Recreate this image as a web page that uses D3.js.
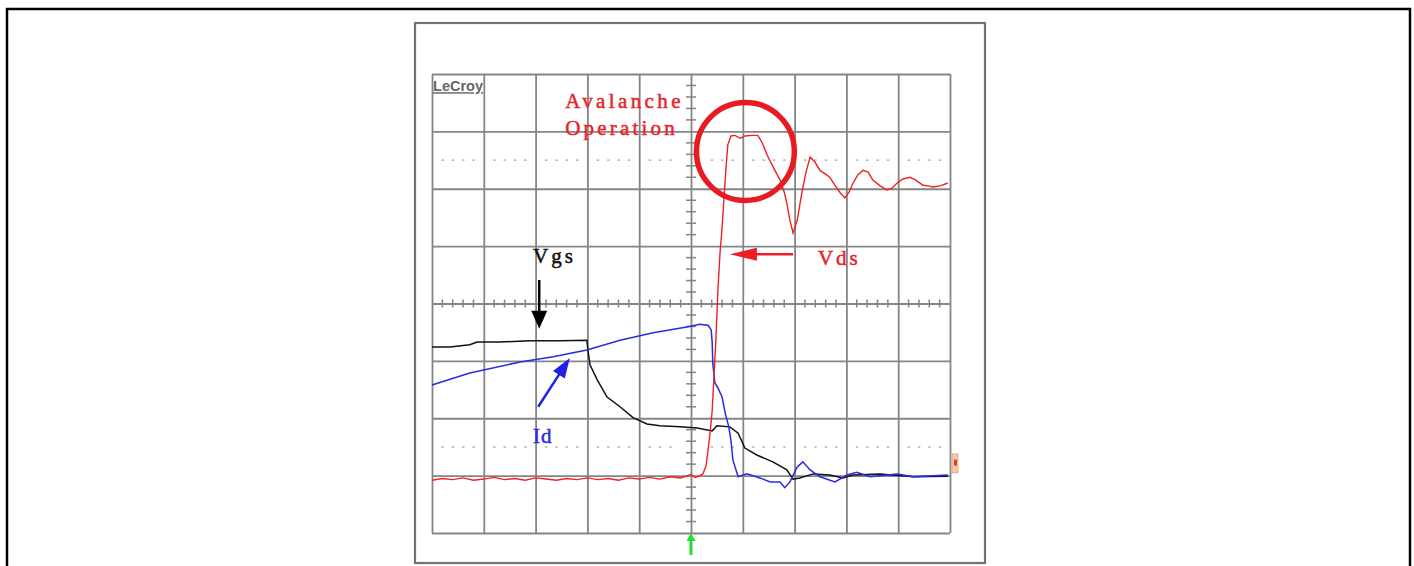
<!DOCTYPE html>
<html><head><meta charset="utf-8">
<script src="https://cdn.jsdelivr.net/npm/d3@7"></script>
<style>html,body{margin:0;padding:0;background:#fff;overflow:hidden}svg{display:block}</style>
</head><body><svg id="c" width="1414" height="566"></svg>
<script>
// ---- DATA (time in divisions 0..10, level in divisions -4..4) ----
const vdsX = [0,0.2,0.4,0.6,0.8,1.0,1.2,1.4,1.6,1.8,2.0,2.2,2.4,2.6,2.8,3.0,3.2,3.4,3.6,3.8,4.0,4.2,4.4,4.6,4.8,5.0,5.08,5.17,5.23,5.29,5.33,5.37,5.41,5.44,5.48,5.52,5.56,5.60,5.64,5.68,5.71,5.77,5.85,5.95,6.04,6.18,6.29,6.37,6.49,6.62,6.72,6.80,6.85,6.91,6.97,7.05,7.14,7.22,7.30,7.39,7.49,7.59,7.68,7.78,7.88,7.97,8.05,8.13,8.22,8.32,8.42,8.51,8.65,8.78,8.88,8.98,9.09,9.23,9.34,9.48,9.58,9.67,9.81,9.96];
const vdsY = [-3.08,-3.05,-3.07,-3.04,-3.08,-3.06,-3.03,-3.07,-3.05,-3.08,-3.04,-3.06,-3.08,-3.05,-3.07,-3.04,-3.07,-3.05,-3.08,-3.04,-3.06,-3.03,-3.06,-3.02,-3.04,-2.98,-3.03,-3.0,-2.97,-2.83,-2.55,-2.24,-1.86,-1.33,-0.64,0.24,0.88,1.32,1.89,2.41,2.76,2.92,2.93,2.88,2.92,2.93,2.93,2.81,2.55,2.32,2.15,1.94,1.75,1.45,1.23,1.45,1.93,2.29,2.55,2.47,2.32,2.26,2.20,2.06,1.93,1.84,1.94,2.10,2.24,2.32,2.29,2.15,2.05,1.98,2.01,2.10,2.17,2.20,2.15,2.06,2.05,2.03,2.05,2.10];

const vgsX = [0,0.35,0.73,0.87,1.31,1.89,2.47,2.99,3.01,3.05,3.19,3.38,3.63,3.88,4.15,4.40,4.79,5.12,5.41,5.50,5.75,5.91,6.04,6.27,6.58,6.85,6.97,7.10,7.36,7.68,7.93,8.13,8.65,9.29,9.96];
const vgsY = [-0.76,-0.76,-0.72,-0.67,-0.67,-0.65,-0.65,-0.64,-0.81,-1.07,-1.33,-1.63,-1.80,-1.99,-2.10,-2.13,-2.15,-2.17,-2.22,-2.13,-2.15,-2.26,-2.52,-2.64,-2.76,-2.90,-3.06,-3.04,-2.97,-2.99,-3.04,-2.99,-2.97,-3.02,-3.01];

const idX = [0,0.73,1.70,2.34,2.99,3.63,4.27,4.92,5.17,5.33,5.39,5.41,5.42,5.46,5.52,5.60,5.66,5.73,5.77,5.81,5.91,6.08,6.33,6.53,6.72,6.81,6.91,7.05,7.16,7.30,7.49,7.78,8.01,8.20,8.46,8.98,9.29,9.96];
const idY = [-1.42,-1.21,-1.02,-0.93,-0.81,-0.64,-0.51,-0.41,-0.36,-0.38,-0.46,-0.69,-1.04,-1.38,-1.47,-1.63,-1.91,-2.15,-2.38,-2.73,-3.02,-2.97,-3.04,-3.11,-3.11,-3.21,-3.11,-2.85,-2.76,-2.90,-3.02,-3.11,-2.99,-2.94,-3.02,-2.97,-3.02,-2.99];

const labelTexts = ["Avalanche","Operation","Vds","Vgs","Id","LeCroy"];
const xDivs = [0,1,2,3,4,5,6,7,8,9,10];
const yDivs = [-4,-3,-2,-1,0,1,2,3,4];

// ---- LAYOUT ----
const svg = d3.select("#c");
const P = {left:432, right:950, top:74, bottom:533};
const x = d3.scaleLinear().domain([0,10]).range([P.left,P.right]);
const y = d3.scaleLinear().domain([-4,4]).range([P.bottom,P.top]);

// outer border & inner frame
svg.append("rect").attr("x",7).attr("y",9).attr("width",1403).attr("height",620)
  .attr("fill","none").attr("stroke","#000").attr("stroke-width",2.5);
svg.append("rect").attr("x",415).attr("y",23).attr("width",570).attr("height",540)
  .attr("fill","#fff").attr("stroke","#747474").attr("stroke-width",2.2);

const gridC = "#858585";
// grid via axes
svg.append("g").attr("transform",`translate(0,${P.bottom})`)
  .call(d3.axisBottom(x).tickValues(xDivs).tickSize(-(P.bottom-P.top)).tickFormat(""))
  .call(g=>{g.select(".domain").remove(); g.selectAll("line").attr("stroke",gridC).attr("stroke-width",1.8);});
svg.append("g").attr("transform",`translate(${P.left},0)`)
  .call(d3.axisLeft(y).tickValues(yDivs).tickSize(-(P.right-P.left)).tickFormat(""))
  .call(g=>{g.select(".domain").remove(); g.selectAll("line").attr("stroke",gridC).attr("stroke-width",1.8);});

// center minor ticks
const minorX = d3.range(0,50).map(i=>i*0.2).filter(v=>Math.abs(v-Math.round(v))>0.01);
const minorY = d3.range(-20,20).map(i=>i*0.2).filter(v=>Math.abs(v-Math.round(v))>0.01);
svg.append("g").selectAll("line").data(minorX).join("line")
  .attr("x1",d=>x(d)).attr("x2",d=>x(d)).attr("y1",y(0)-4).attr("y2",y(0)+4)
  .attr("stroke",gridC).attr("stroke-width",1.5);
svg.append("g").selectAll("line").data(minorY).join("line")
  .attr("x1",x(5)-5).attr("x2",x(5)+5).attr("y1",d=>y(d)).attr("y2",d=>y(d))
  .attr("stroke",gridC).attr("stroke-width",1.5);
// dotted reference lines at +/-2.5 div
[2.5,-2.5].forEach(lv=>{
  svg.append("g").selectAll("rect").data(minorX.filter(v=>Math.abs(v-5)>0.3)).join("rect")
    .attr("x",d=>x(d)-1).attr("y",y(lv)-0.7).attr("width",2.4).attr("height",1.5)
    .attr("fill","#b0b0b0");
});

// traces
const line = d3.line().x(d=>x(d[0])).y(d=>y(d[1]));
const zip = (a,b)=>a.map((v,i)=>[v,b[i]]);
svg.append("path").datum(zip(vgsX,vgsY)).attr("d",line).attr("fill","none").attr("stroke","#111").attr("stroke-width",1.5);
svg.append("path").datum(zip(idX,idY)).attr("d",line).attr("fill","none").attr("stroke","#2a2ae0").attr("stroke-width",1.5);
svg.append("path").datum(zip(vdsX,vdsY)).attr("d",line).attr("fill","none").attr("stroke","#ee2222").attr("stroke-width",1.4);

// trigger marker (green arrow) and ground marker
const gx = x(5);
svg.append("line").attr("x1",gx).attr("x2",gx).attr("y1",P.bottom+22).attr("y2",P.bottom+6)
  .attr("stroke","#22dd33").attr("stroke-width",3);
svg.append("path").attr("d",`M${gx},${P.bottom}L${gx-4.5},${P.bottom+8}L${gx+4.5},${P.bottom+8}Z`).attr("fill","#22dd33");
svg.append("rect").attr("x",x(10)+2).attr("y",y(-2.62)).attr("width",6).attr("height",y(-2.95)-y(-2.62))
  .attr("fill","#f7c7a8").attr("stroke","#e89a8a").attr("stroke-width",0.8);
svg.append("rect").attr("x",x(10)+4).attr("y",y(-2.72)).attr("width",3).attr("height",6).attr("fill","#c8501e");

// annotation helpers
function arrow(x1,y1,x2,y2,col,hl,hw,sw){
  const X1=x(x1),Y1=y(y1),X2=x(x2),Y2=y(y2);
  const a=Math.atan2(Y2-Y1,X2-X1), c=Math.cos(a), s=Math.sin(a);
  const bx=X2-hl*c, by=Y2-hl*s;
  svg.append("line").attr("x1",X1).attr("y1",Y1).attr("x2",bx+2*c).attr("y2",by+2*s)
    .attr("stroke",col).attr("stroke-width",sw);
  svg.append("path").attr("d",`M${X2},${Y2}L${bx-hw/2*s},${by+hw/2*c}L${bx+hw/2*s},${by-hw/2*c}Z`).attr("fill",col);
}
function label(t,xd,yd,col,size,ls){
  return svg.append("text").attr("x",x(xd)).attr("y",y(yd)).text(t)
    .attr("fill",col).attr("stroke",col).attr("stroke-width",0.5)
    .attr("font-family","'Liberation Serif','Times New Roman',serif")
    .attr("font-size",size).attr("letter-spacing",ls);
}
const red="#e8242b";
label(labelTexts[0],2.57,3.40,red,21,3.4);
label(labelTexts[1],2.57,2.93,red,21,3.2);
svg.append("circle").attr("cx",x(6.05)).attr("cy",y(2.65)).attr("r",x(0.945)-x(0))
  .attr("fill","none").attr("stroke","#e81b22").attr("stroke-width",5.5);
label(labelTexts[2],7.45,0.67,red,21,3);
arrow(6.97,0.86,5.75,0.86,"#ee1c24",27,13,2.5);
label(labelTexts[3],1.95,0.71,"#111",21,3);
arrow(2.07,0.41,2.07,-0.44,"#000",18,16,2.5);
label(labelTexts[4],1.95,-2.43,"#2a2ae0",21,1);
arrow(2.05,-1.80,2.66,-0.95,"#2020e8",20,14,2.5);
svg.append("text").attr("x",x(0.02)).attr("y",y(3.70)).text(labelTexts[5])
  .attr("fill","#666").attr("font-family","'Liberation Sans Narrow','Liberation Sans',Arial,sans-serif")
  .attr("font-weight","bold").attr("font-size",14.5).attr("text-decoration","underline");
</script></body></html>
